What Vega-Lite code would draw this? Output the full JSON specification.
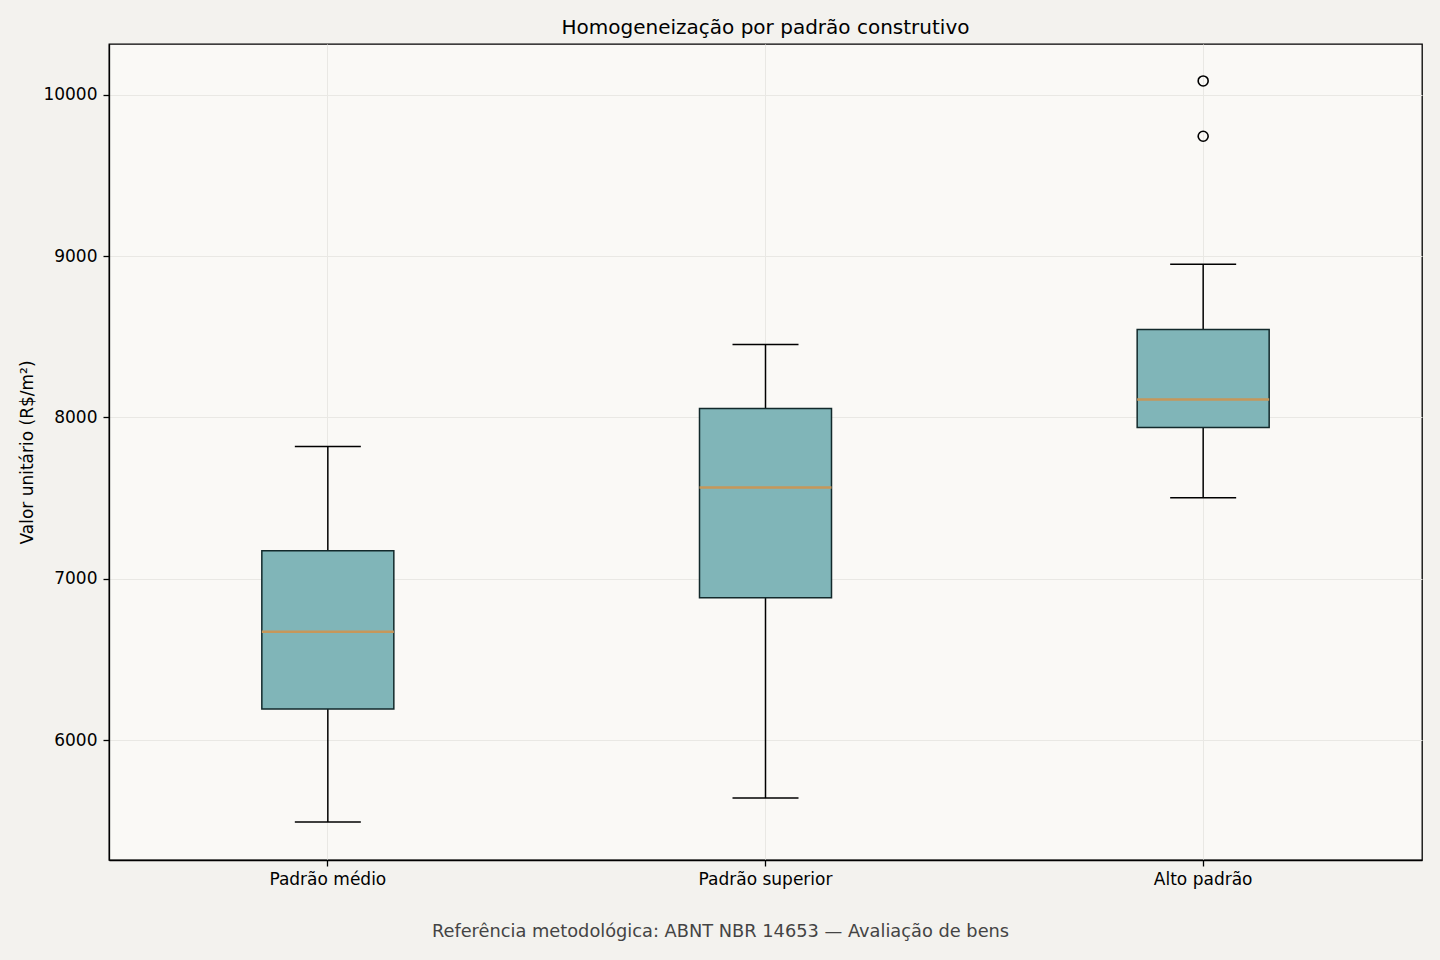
{
  "$schema": "https://vega.github.io/schema/vega-lite/v6.json",
  "description": "Boxplot - homogeneizacao por padrao construtivo",
  "autosize": "none",
  "width": 1313,
  "height": 816,
  "padding": {"left": 109, "top": 44, "right": 18, "bottom": 100},
  "background": "#f3f2ee",
  "title": {
    "text": "Homogeneização por padrão construtivo",
    "font": "DejaVu Sans",
    "fontSize": 20,
    "fontWeight": "normal",
    "color": "black",
    "anchor": "middle",
    "offset": 6
  },
  "datasets": {
    "stats": [
      {"padrao": "Padrão médio", "lower": 5492, "q1": 6192, "median": 6671, "q3": 7174, "upper": 7820},
      {"padrao": "Padrão superior", "lower": 5640, "q1": 6882, "median": 7566, "q3": 8056, "upper": 8453},
      {"padrao": "Alto padrão", "lower": 7502, "q1": 7938, "median": 8112, "q3": 8546, "upper": 8950}
    ],
    "outliers": [
      {"padrao": "Alto padrão", "valor": 10087},
      {"padrao": "Alto padrão", "valor": 9744}
    ]
  },
  "encoding": {
    "x": {
      "field": "padrao",
      "type": "nominal",
      "title": "Referência metodológica: ABNT NBR 14653 — Avaliação de bens",
      "scale": {"domain": ["Padrão médio", "Padrão superior", "Alto padrão"], "paddingInner": 0, "paddingOuter": 0},
      "axis": {
        "labelAngle": 0,
        "bandPosition": 0.5,
        "grid": true,
        "titleX": 611,
        "titlePadding": 35,
        "titleFontSize": 17.8,
        "titleColor": "#444444",
        "titleFontWeight": "normal"
      }
    }
  },
  "layer": [
    {
      "data": {"name": "stats"},
      "mark": {"type": "rule", "color": "black", "strokeWidth": 1.5},
      "encoding": {
        "y": {
          "field": "lower",
          "type": "quantitative",
          "title": "Valor unitário (R$/m²)",
          "scale": {"domain": [5256, 10316], "nice": false, "zero": false},
          "axis": {"values": [6000, 7000, 8000, 9000, 10000], "format": "d", "grid": true, "labelPadding": 6, "titleFontWeight": "normal", "titlePadding": 6}
        },
        "y2": {"field": "upper"}
      }
    },
    {
      "data": {"name": "stats"},
      "mark": {"type": "bar", "size": 132, "fill": "#80b5b8", "stroke": "#12292b", "strokeWidth": 1.5},
      "encoding": {
        "y": {"field": "q1", "type": "quantitative"},
        "y2": {"field": "q3"}
      }
    },
    {
      "data": {"name": "stats"},
      "mark": {"type": "tick", "size": 132, "thickness": 2.5, "color": "#c6975a", "opacity": 1},
      "encoding": {
        "y": {"field": "median", "type": "quantitative"}
      }
    },
    {
      "data": {"name": "stats"},
      "mark": {"type": "tick", "size": 66, "thickness": 1.5, "color": "black", "opacity": 1},
      "encoding": {
        "y": {"field": "lower", "type": "quantitative"}
      }
    },
    {
      "data": {"name": "stats"},
      "mark": {"type": "tick", "size": 66, "thickness": 1.5, "color": "black", "opacity": 1},
      "encoding": {
        "y": {"field": "upper", "type": "quantitative"}
      }
    },
    {
      "data": {"name": "outliers"},
      "mark": {"type": "point", "shape": "circle", "filled": false, "size": 100, "stroke": "black", "strokeWidth": 1.6, "opacity": 1},
      "encoding": {
        "y": {"field": "valor", "type": "quantitative"}
      }
    }
  ],
  "config": {
    "font": "DejaVu Sans",
    "view": {"fill": "#faf9f6", "stroke": "black", "strokeWidth": 1.3},
    "axis": {
      "labelFont": "DejaVu Sans",
      "titleFont": "DejaVu Sans",
      "labelFontSize": 17,
      "titleFontSize": 17,
      "labelColor": "black",
      "titleColor": "black",
      "domainColor": "black",
      "domainWidth": 1.3,
      "tickColor": "black",
      "tickWidth": 1.3,
      "tickSize": 6,
      "labelPadding": 5,
      "gridColor": "#e9e8e4",
      "gridWidth": 1
    }
  }
}
